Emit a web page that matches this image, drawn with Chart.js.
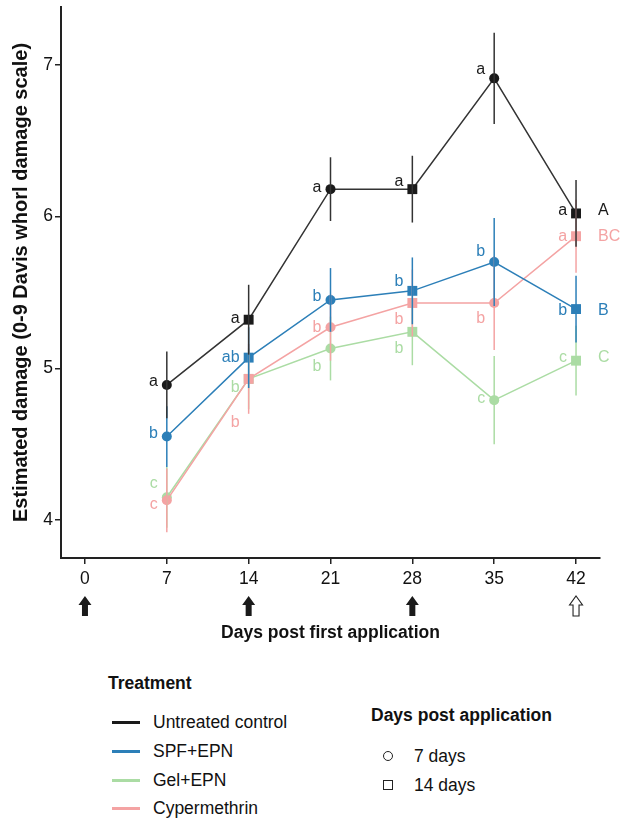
<!DOCTYPE html>
<html>
<head>
<meta charset="utf-8">
<script src="https://cdn.jsdelivr.net/npm/chart.js@4"></script>
<style>
  html, body { margin: 0; padding: 0; background: #fff; }
  #wrap { position: relative; width: 621px; height: 820px; font-family: "Liberation Sans", Arial, sans-serif; color: #111; }
  #chartBox { position: absolute; left: 0; top: 0; width: 621px; height: 660px; }
  .lg { position: absolute; font-size: 17.5px; line-height: 22px; white-space: nowrap; }
  .b { font-weight: bold; }
  .sw { position: absolute; width: 28px; height: 3px; }
  .circ { position: absolute; width: 8px; height: 8px; border: 1.5px solid #222; border-radius: 50%; }
  .sq { position: absolute; width: 8px; height: 8px; border: 1.5px solid #222; }
</style>
</head>
<body>
<div id="wrap">
  <div id="chartBox"><canvas id="c" width="621" height="660"></canvas></div>
  <div id="legend"></div>
</div>
<script>
// ---- data ----
const days = [7, 14, 21, 28, 35, 42];
const pointShapes = ['circle', 'rect', 'circle', 'rect', 'circle', 'rect'];
const xTickValues = [0, 7, 14, 21, 28, 35, 42];
const yTickValues = [4, 5, 6, 7];
const applicationDays = [0, 14, 28];
const assessmentDays = [42];

const treatments = ['Untreated control', 'SPF+EPN', 'Gel+EPN', 'Cypermethrin'];
const controlMean = [4.89, 5.32, 6.18, 6.18, 6.91, 6.02];
const controlErr  = [0.22, 0.23, 0.21, 0.22, 0.30, 0.22];
const spfMean     = [4.55, 5.07, 5.45, 5.51, 5.70, 5.39];
const spfErr      = [0.20, 0.20, 0.21, 0.22, 0.29, 0.22];
const gelMean     = [4.15, 4.93, 5.13, 5.24, 4.79, 5.05];
const gelErr      = [0.20, 0.20, 0.21, 0.22, 0.29, 0.23];
const cypMean     = [4.13, 4.93, 5.27, 5.43, 5.43, 5.87];
const cypErr      = [0.21, 0.23, 0.22, 0.22, 0.31, 0.24];

const controlLetters = ['a', 'a', 'a', 'a', 'a', 'a'];
const spfLetters     = ['b', 'ab', 'b', 'b', 'b', 'b'];
const gelLetters     = ['c', 'b', 'b', 'b', 'c', 'c'];
const cypLetters     = ['c', 'b', 'b', 'b', 'b', 'a'];
const controlLetterY = [4.91, 5.33, 6.19, 6.23, 6.97, 6.04];
const spfLetterY     = [4.57, 5.07, 5.47, 5.57, 5.77, 5.38];
const gelLetterY     = [4.24, 4.87, 5.01, 5.13, 4.80, 5.07];
const cypLetterY     = [4.10, 4.64, 5.27, 5.32, 5.33, 5.87];
const overallLetters = ['A', 'B', 'C', 'BC'];

const colors = { control: '#1a1a1a', spf: '#2c7fb8', gel: '#abdca4', cyp: '#f4a3a3' };
const FONT = '"Liberation Sans", Arial, sans-serif';

function pts(means) { return days.map((d, i) => ({ x: d, y: means[i] })); }
function radii() { return pointShapes.map(s => s === 'rect' ? 7 : 5); }

const series = [
  { label: treatments[0], mean: controlMean, err: controlErr, letters: controlLetters, ly: controlLetterY, overall: overallLetters[0], color: colors.control, lineColor: '#333', order: 0 },
  { label: treatments[1], mean: spfMean, err: spfErr, letters: spfLetters, ly: spfLetterY, overall: overallLetters[1], color: colors.spf, lineColor: colors.spf, order: 1 },
  { label: treatments[2], mean: gelMean, err: gelErr, letters: gelLetters, ly: gelLetterY, overall: overallLetters[2], color: colors.gel, lineColor: colors.gel, order: 3 },
  { label: treatments[3], mean: cypMean, err: cypErr, letters: cypLetters, ly: cypLetterY, overall: overallLetters[3], color: colors.cyp, lineColor: colors.cyp, order: 2 }
];

const errorBarPlugin = {
  id: 'errorBars',
  afterDatasetsDraw(chart) {
    const { ctx, scales: { x, y } } = chart;
    ctx.save();
    ctx.lineWidth = 1.5;
    [2, 3, 1, 0].forEach(si => {
      const s = series[si];
      ctx.strokeStyle = s.lineColor;
      days.forEach((d, i) => {
        const px = x.getPixelForValue(d);
        ctx.beginPath();
        ctx.moveTo(px, y.getPixelForValue(s.mean[i] + s.err[i]));
        ctx.lineTo(px, y.getPixelForValue(s.mean[i] - s.err[i]));
        ctx.stroke();
      });
    });
    ctx.restore();
  }
};

const letterPlugin = {
  id: 'letters',
  afterDraw(chart) {
    const { ctx, scales: { x, y } } = chart;
    ctx.save();
    ctx.font = '16px ' + FONT;
    ctx.textBaseline = 'middle';
    series.forEach(s => {
      ctx.fillStyle = s.color;
      ctx.textAlign = 'right';
      days.forEach((d, i) => {
        ctx.fillText(s.letters[i], x.getPixelForValue(d) - 9, y.getPixelForValue(s.ly[i]));
      });
      ctx.textAlign = 'left';
      const last = days.length - 1;
      ctx.fillText(s.overall, x.getPixelForValue(days[last]) + 22, y.getPixelForValue(s.ly[last]));
    });
    ctx.restore();
  }
};

const arrowPlugin = {
  id: 'arrows',
  afterDraw(chart) {
    const { ctx, scales: { x } } = chart;
    const top = 596, mid = 605, bot = 616;
    function arrow(px, filled) {
      ctx.beginPath();
      ctx.moveTo(px, top);
      ctx.lineTo(px + 6.5, mid);
      ctx.lineTo(px + 3, mid);
      ctx.lineTo(px + 3, bot);
      ctx.lineTo(px - 3, bot);
      ctx.lineTo(px - 3, mid);
      ctx.lineTo(px - 6.5, mid);
      ctx.closePath();
      if (filled) { ctx.fillStyle = '#1a1a1a'; ctx.fill(); }
      else { ctx.fillStyle = '#fff'; ctx.fill(); ctx.strokeStyle = '#222'; ctx.lineWidth = 1.1; ctx.stroke(); }
    }
    ctx.save();
    applicationDays.forEach(d => arrow(x.getPixelForValue(d), true));
    assessmentDays.forEach(d => arrow(x.getPixelForValue(d), false));
    ctx.restore();
  }
};

function noPad(sc) { sc.paddingTop = 0; sc.paddingBottom = 0; sc.paddingLeft = 0; sc.paddingRight = 0; }

new Chart(document.getElementById('c'), {
  type: 'line',
  data: {
    datasets: series.map(s => ({
      label: s.label,
      data: pts(s.mean),
      borderColor: s.lineColor,
      backgroundColor: s.color,
      pointBackgroundColor: s.color,
      pointBorderColor: s.color,
      pointBorderWidth: 0,
      pointStyle: pointShapes,
      pointRadius: radii(),
      pointHoverRadius: radii(),
      borderWidth: 1.5,
      tension: 0,
      order: s.order
    }))
  },
  options: {
    responsive: false,
    animation: false,
    events: [],
    layout: { padding: { top: 7, right: 21, left: 0, bottom: 0 } },
    plugins: { legend: { display: false }, tooltip: { enabled: false } },
    scales: {
      x: {
        type: 'linear',
        min: -2.05, max: 44.05,
        afterBuildTicks: sc => { sc.ticks = xTickValues.map(v => ({ value: v })); },
        afterFit: sc => { sc.height = 102; noPad(sc); },
        ticks: { color: '#111', font: { family: FONT, size: 17.5 }, padding: 5, autoSkip: false, maxRotation: 0 },
        grid: { drawOnChartArea: false, drawTicks: true, tickLength: 6, color: '#222', lineWidth: 1.5 },
        border: { display: true, color: '#222', width: 2 },
        title: { display: true, text: 'Days post first application', color: '#111', font: { family: FONT, size: 17.5, weight: 'bold' }, padding: { top: 0, bottom: 16 } }
      },
      y: {
        type: 'linear',
        min: 3.75, max: 7.38,
        afterBuildTicks: sc => { sc.ticks = yTickValues.map(v => ({ value: v })); },
        afterFit: sc => { sc.width = 61; noPad(sc); },
        ticks: { color: '#111', font: { family: FONT, size: 17.5 }, padding: 2 },
        grid: { drawOnChartArea: false, drawTicks: true, tickLength: 6, color: '#222', lineWidth: 1.5 },
        border: { display: true, color: '#222', width: 2 },
        title: { display: true, text: 'Estimated damage (0-9 Davis whorl damage scale)', color: '#111', font: { family: FONT, size: 20, weight: 'bold' }, padding: { top: 9, bottom: 0 } }
      }
    }
  },
  plugins: [errorBarPlugin, letterPlugin, arrowPlugin]
});

// ---- legend (HTML) ----
const lg = document.getElementById('legend');
function add(html) { lg.insertAdjacentHTML('beforeend', html); }
add('<div class="lg b" style="left:108px;top:672px;">Treatment</div>');
const swColors = [colors.control, colors.spf, colors.gel, colors.cyp];
const itemY = [722, 751, 780, 808];
treatments.forEach((t, i) => {
  add(`<div class="sw" style="left:112px;top:${itemY[i] - 1.5}px;background:${swColors[i]}"></div>`);
  add(`<div class="lg" style="left:153px;top:${itemY[i] - 11}px;">${t}</div>`);
});
add('<div class="lg b" style="left:371px;top:704px;">Days post application</div>');
const shapeLabels = ['7 days', '14 days'];
const shapeY = [756, 785];
shapeLabels.forEach((t, i) => {
  add(`<div class="${i === 0 ? 'circ' : 'sq'}" style="left:383px;top:${shapeY[i] - 5.5}px;"></div>`);
  add(`<div class="lg" style="left:414px;top:${shapeY[i] - 11}px;">${t}</div>`);
});
</script>
</body>
</html>
